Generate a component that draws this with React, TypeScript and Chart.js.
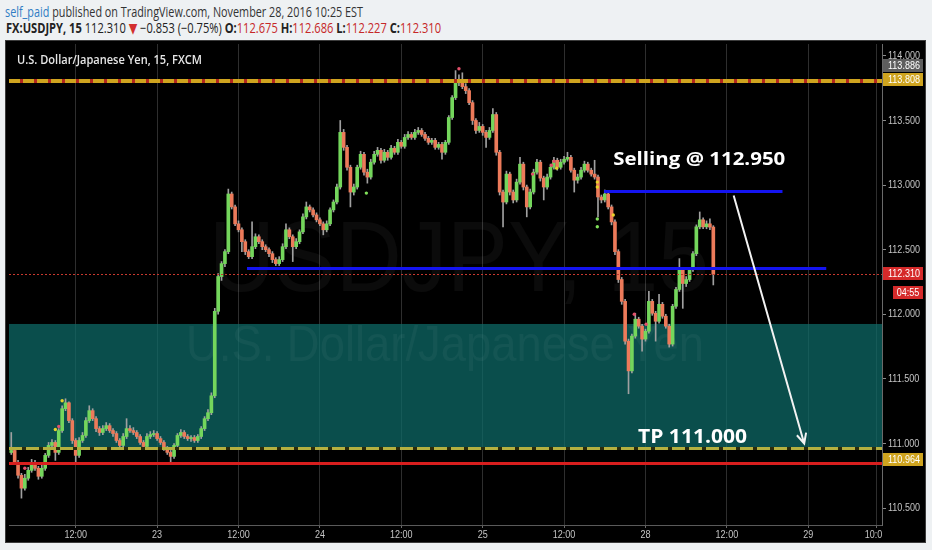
import React, { useEffect, useRef } from "react";
import { Chart, registerables } from "chart.js";

Chart.register(...registerables);

// USD/JPY, 30-minute bars from Nov 22 02:30 to Nov 28 10:00 EST (weekend gap removed)
const firstOpen = 110.93;

const closes = [
  110.946, 110.854, 110.754, 110.654, 110.731, 110.792, 110.854, 110.808, 110.746, 110.808,
  110.908, 110.985, 111.008, 110.931, 111.100, 111.269, 111.315, 111.177, 111.023, 110.908,
  111.023, 111.062, 111.177, 111.254, 111.192, 111.115, 111.085, 111.115, 111.138, 111.100,
  111.077, 111.023, 110.985, 111.054, 111.115, 111.100, 111.085, 111.054, 111.008, 110.977,
  111.054, 111.069, 111.077, 111.038, 111.008, 110.962, 110.931, 110.900, 110.985, 111.062,
  111.085, 111.054, 111.038, 111.046, 111.023, 111.054, 111.115, 111.192, 111.238, 111.369,
  112.023, 112.292, 112.392, 112.485, 112.931, 112.831, 112.700, 112.654, 112.562, 112.485,
  112.446, 112.523, 112.600, 112.562, 112.523, 112.500, 112.469, 112.423, 112.392, 112.423,
  112.523, 112.654, 112.600, 112.523, 112.562, 112.638, 112.754, 112.831, 112.808, 112.769,
  112.731, 112.700, 112.654, 112.700, 112.808, 112.869, 112.985, 113.408, 113.292, 113.138,
  112.946, 112.985, 113.138, 113.238, 113.100, 113.062, 113.177, 113.238, 113.269, 113.192,
  113.254, 113.215, 113.285, 113.254, 113.331, 113.300, 113.369, 113.392, 113.369, 113.408,
  113.423, 113.392, 113.362, 113.331, 113.346, 113.292, 113.315, 113.254, 113.331, 113.523,
  113.677, 113.792, 113.808, 113.762, 113.731, 113.638, 113.500, 113.423, 113.454, 113.408,
  113.369, 113.423, 113.546, 113.254, 112.946, 112.869, 113.085, 112.946, 112.885, 113.023,
  113.162, 112.985, 112.831, 112.946, 113.100, 113.177, 113.054, 112.985, 113.062, 113.138,
  113.192, 113.138, 113.177, 113.200, 113.215, 113.115, 113.038, 113.062, 113.115, 113.162,
  113.115, 113.085, 113.062, 112.908, 112.885, 112.931, 112.831, 112.715, 112.485, 112.269,
  112.100, 111.792, 111.562, 111.831, 111.962, 111.908, 111.808, 111.869, 112.100, 112.008,
  111.946, 112.077, 111.985, 111.908, 111.769, 112.062, 112.192, 112.346, 112.238, 112.269,
  112.346, 112.469, 112.677, 112.731, 112.677, 112.700, 112.675, 112.310,
];

const highs = [
  111.085, 110.962, 110.870, 110.769, 110.762, 110.815, 110.877, 110.869, 110.823, 110.831,
  110.923, 111.008, 111.031, 111.023, 111.115, 111.292, 111.346, 111.323, 111.192, 111.038,
  111.046, 111.085, 111.200, 111.292, 111.269, 111.208, 111.131, 111.138, 111.162, 111.154,
  111.115, 111.092, 111.038, 111.077, 111.192, 111.138, 111.123, 111.100, 111.069, 111.023,
  111.077, 111.092, 111.100, 111.092, 111.054, 111.023, 110.977, 110.946, 111.000, 111.077,
  111.108, 111.100, 111.069, 111.062, 111.062, 111.069, 111.131, 111.208, 111.262, 111.392,
  112.046, 112.315, 112.408, 112.500, 112.969, 112.946, 112.846, 112.723, 112.669, 112.577,
  112.500, 112.715, 112.623, 112.615, 112.577, 112.538, 112.515, 112.485, 112.438, 112.446,
  112.546, 112.700, 112.669, 112.615, 112.585, 112.654, 112.777, 112.869, 112.846, 112.823,
  112.785, 112.746, 112.715, 112.723, 112.823, 112.885, 113.008, 113.500, 113.431, 113.308,
  113.154, 113.008, 113.154, 113.262, 113.254, 113.123, 113.200, 113.262, 113.292, 113.285,
  113.277, 113.269, 113.308, 113.300, 113.354, 113.346, 113.392, 113.415, 113.408, 113.431,
  113.446, 113.438, 113.408, 113.377, 113.362, 113.362, 113.331, 113.331, 113.346, 113.538,
  113.692, 113.886, 113.854, 113.869, 113.785, 113.746, 113.654, 113.515, 113.485, 113.469,
  113.423, 113.446, 113.592, 113.562, 113.269, 112.962, 113.108, 113.100, 112.962, 113.046,
  113.215, 113.177, 113.000, 112.969, 113.123, 113.200, 113.192, 113.069, 113.085, 113.162,
  113.215, 113.208, 113.200, 113.223, 113.254, 113.231, 113.131, 113.085, 113.138, 113.185,
  113.177, 113.131, 113.192, 113.077, 112.923, 112.962, 112.946, 112.846, 112.731, 112.500,
  112.285, 112.115, 111.808, 111.846, 112.008, 111.977, 111.923, 111.885, 112.177, 112.115,
  112.023, 112.154, 112.092, 112.000, 111.923, 112.077, 112.208, 112.431, 112.362, 112.292,
  112.362, 112.485, 112.692, 112.792, 112.746, 112.723, 112.738, 112.686,
];

const lows = [
  110.915, 110.838, 110.731, 110.577, 110.638, 110.715, 110.777, 110.792, 110.723, 110.731,
  110.792, 110.892, 110.962, 110.869, 110.915, 111.085, 111.254, 111.162, 111.000, 110.846,
  110.892, 111.008, 111.046, 111.162, 111.177, 111.092, 111.062, 111.069, 111.100, 111.085,
  111.054, 111.008, 110.962, 110.969, 111.038, 111.085, 111.069, 111.038, 110.992, 110.962,
  110.962, 111.038, 111.054, 111.023, 110.992, 110.946, 110.915, 110.854, 110.885, 110.969,
  111.046, 111.038, 111.023, 111.015, 111.008, 111.008, 111.038, 111.100, 111.177, 111.223,
  111.354, 112.000, 112.262, 112.369, 112.469, 112.815, 112.685, 112.638, 112.485, 112.462,
  112.431, 112.431, 112.508, 112.546, 112.500, 112.485, 112.446, 112.400, 112.377, 112.377,
  112.408, 112.508, 112.585, 112.408, 112.508, 112.546, 112.623, 112.738, 112.792, 112.754,
  112.715, 112.685, 112.615, 112.638, 112.685, 112.792, 112.854, 112.969, 113.269, 113.115,
  112.831, 112.923, 112.969, 113.123, 113.077, 113.015, 113.046, 113.162, 113.223, 113.169,
  113.177, 113.192, 113.200, 113.238, 113.238, 113.285, 113.285, 113.354, 113.354, 113.354,
  113.392, 113.377, 113.346, 113.315, 113.315, 113.277, 113.277, 113.200, 113.238, 113.315,
  113.508, 113.662, 113.769, 113.746, 113.708, 113.623, 113.469, 113.400, 113.408, 113.385,
  113.292, 113.354, 113.408, 113.231, 112.923, 112.677, 112.854, 112.923, 112.862, 112.869,
  113.008, 112.962, 112.754, 112.815, 112.931, 113.085, 113.031, 112.885, 112.969, 113.046,
  113.123, 113.115, 113.123, 113.162, 113.185, 113.100, 112.946, 113.015, 113.046, 113.100,
  113.100, 113.069, 113.046, 112.754, 112.862, 112.869, 112.815, 112.692, 112.462, 112.246,
  112.077, 111.769, 111.385, 111.546, 111.815, 111.892, 111.715, 111.792, 111.854, 111.992,
  111.792, 111.931, 111.969, 111.892, 111.746, 111.754, 112.046, 112.177, 112.046, 112.215,
  112.254, 112.331, 112.454, 112.662, 112.662, 112.662, 112.654, 112.227,
];

// time axis: bar index of each label
const timeTickIndex = [19, 43, 67, 91, 115, 139, 163, 187, 211, 235, 255];
const timeTickLabels = ["12:00", "23", "12:00", "24", "12:00", "25", "12:00", "28", "12:00", "29", "10:00"];
const priceTicks = [110.5, 111.0, 111.5, 112.0, 112.5, 113.0, 113.5, 114.0];

const X_MIN = -0.67;
const X_MAX = 256.74;
const Y_MIN = 110.369;
const Y_MAX = 114.092;

// levels drawn on the chart
const resistanceLevel = 113.808;
const supportLevel = 110.964;
const stopLevel = 110.846;
const zoneTop = 111.925;
const sellPrice = 112.95;
const targetPrice = 111.0;
const sessionHigh = 113.886;
const pivotLevel = 112.355;

// drawings anchored in (bar index, price)
const sellLineSpan = [174.8, 227.4];
const pivotLineSpan = [69.5, 240.3];
const arrowStart = [213.0, 112.92];
const arrowEnd = [233.8, targetPrice];
const sellLabelAt = [177.5, 113.154];
const targetLabelAt = [184.8, targetPrice];

// indicator dots
const signalIndex = [4, 13, 14, 15, 104.7, 132, 153.7, 159.3, 160, 160.8, 172.8, 172.8, 172.8, 172.8, 177.5, 183.7, 187.2];
const signalPrice = [110.808, 111.108, 111.131, 111.331, 112.938, 113.9, 113.085, 113.154, 113.185, 113.131, 113.023, 112.985, 112.738, 112.677, 112.769, 112.0, 111.923];
const signalKind = ["r", "y", "r", "y", "g", "r", "r", "r", "r", "y", "y", "y", "g", "g", "y", "r", "r"];

const barCountdown = "04:55";
const dayChange = "\u22120.853 (\u22120.75%)";

const UP = "#74d65c";
const DOWN = "#ec7a5a";
const WICK = "#a0a0a0";
const SIGNAL_COLORS: Record<string, string> = { r: "#e2506a", y: "#e6d22a", g: "#80e05a" };

const opens = closes.map((_, i) => (i === 0 ? firstOpen : closes[i - 1]));
const last = closes.length - 1;

function squeeze(ctx: CanvasRenderingContext2D, text: string, x: number, y: number, sx: number, align: string) {
  const w = ctx.measureText(text).width * sx;
  const left = align === "center" ? x - w / 2 : align === "right" ? x - w : x;
  ctx.save();
  ctx.translate(left, y);
  ctx.scale(sx, 1);
  ctx.textAlign = "left";
  ctx.fillText(text, 0, 0);
  ctx.restore();
}

function fitText(ctx: CanvasRenderingContext2D, text: string, left: number, y: number, width: number) {
  const w = ctx.measureText(text).width;
  ctx.save();
  ctx.translate(left, y);
  ctx.scale(width / w, 1);
  ctx.textAlign = "left";
  ctx.fillText(text, 0, 0);
  ctx.restore();
}

const AXIS_FONT = "11px 'Liberation Sans', Arial, sans-serif";

const overlay = {
  id: "overlay",
  beforeDatasetsDraw(chart: any) {
    const { ctx, chartArea: a, scales } = chart;
    const y = scales.y;
    ctx.save();
    ctx.beginPath();
    ctx.rect(a.left, a.top, a.right - a.left, a.bottom - a.top);
    ctx.clip();
    // demand zone
    const zt = y.getPixelForValue(zoneTop);
    const zb = y.getPixelForValue(supportLevel);
    ctx.fillStyle = "rgba(14,108,106,0.72)";
    ctx.fillRect(a.left, zt, a.right - a.left, zb - zt);
    // symbol watermark
    ctx.fillStyle = "rgba(255,255,255,0.045)";
    ctx.textBaseline = "alphabetic";
    ctx.font = "100px 'Liberation Sans', Arial, sans-serif";
    fitText(ctx, "USDJPY, 15", a.left + 200, a.top + 247, 500);
    ctx.font = "50px 'Liberation Sans', Arial, sans-serif";
    fitText(ctx, "U.S. Dollar/Japanese Yen", a.left + 177, a.top + 317, 518);
    ctx.restore();
  },
  afterDatasetsDraw(chart: any) {
    const { ctx, chartArea: a, scales } = chart;
    const x = scales.x;
    const y = scales.y;
    ctx.save();
    ctx.beginPath();
    ctx.rect(a.left, a.top, a.right - a.left, a.bottom - a.top);
    ctx.clip();

    const hline = (p: number, color: string, width: number, dash: number[] = []) => {
      const py = Math.round(y.getPixelForValue(p)) + (width % 2 ? 0.5 : 0);
      ctx.strokeStyle = color;
      ctx.lineWidth = width;
      ctx.setLineDash(dash);
      ctx.beginPath();
      ctx.moveTo(a.left, py);
      ctx.lineTo(a.right, py);
      ctx.stroke();
    };
    hline(stopLevel, "#d81e1e", 3);
    hline(supportLevel, "#2c2c0c", 3);
    hline(supportLevel, "#b4b040", 3, [13, 4]);
    hline(resistanceLevel, "#b3261e", 4);
    hline(resistanceLevel, "#cfa41f", 4, [11, 3]);
    hline(closes[last], "#c8382e", 1, [2, 2]);
    ctx.setLineDash([]);

    // trend segments
    const seg = (span: number[], p: number) => {
      const py = y.getPixelForValue(p);
      ctx.strokeStyle = "#1414f0";
      ctx.lineWidth = 3;
      ctx.beginPath();
      ctx.moveTo(x.getPixelForValue(span[0]), py);
      ctx.lineTo(x.getPixelForValue(span[1]), py);
      ctx.stroke();
    };
    seg(sellLineSpan, sellPrice);
    seg(pivotLineSpan, pivotLevel);

    // target arrow
    const x1 = x.getPixelForValue(arrowStart[0]);
    const y1 = y.getPixelForValue(arrowStart[1]);
    const x2 = x.getPixelForValue(arrowEnd[0]);
    const y2 = y.getPixelForValue(arrowEnd[1]);
    ctx.strokeStyle = "#f2f2f2";
    ctx.lineWidth = 2;
    ctx.beginPath();
    ctx.moveTo(x1, y1);
    ctx.lineTo(x2, y2);
    const ang = Math.atan2(y2 - y1, x2 - x1);
    const head = 11;
    ctx.moveTo(x2 - head * Math.cos(ang - 0.45), y2 - head * Math.sin(ang - 0.45));
    ctx.lineTo(x2, y2);
    ctx.lineTo(x2 - head * Math.cos(ang + 0.45), y2 - head * Math.sin(ang + 0.45));
    ctx.stroke();

    // annotations
    ctx.fillStyle = "#ffffff";
    ctx.textBaseline = "alphabetic";
    ctx.font = "bold 18px 'Open Sans', 'DejaVu Sans', sans-serif";
    fitText(ctx, `Selling @ ${sellPrice.toFixed(3)}`, x.getPixelForValue(sellLabelAt[0]), y.getPixelForValue(sellLabelAt[1]), 172);
    ctx.font = "bold 20px 'Open Sans', 'DejaVu Sans', sans-serif";
    fitText(ctx, `TP ${targetPrice.toFixed(3)}`, x.getPixelForValue(targetLabelAt[0]), y.getPixelForValue(targetLabelAt[1]), 109);

    // pane title
    ctx.fillStyle = "#e6e6e6";
    ctx.font = "600 12px 'Open Sans', 'DejaVu Sans', sans-serif";
    fitText(ctx, "U.S. Dollar/Japanese Yen, 15, FXCM", a.left + 8, a.top + 20, 185);
    ctx.restore();
  },
  afterDraw(chart: any) {
    const { ctx, chartArea: a, scales, width, height } = chart;
    const x = scales.x;
    const y = scales.y;
    ctx.save();
    ctx.font = AXIS_FONT;
    ctx.textBaseline = "middle";

    // time labels (clipped at the price scale)
    ctx.save();
    ctx.beginPath();
    ctx.rect(0, a.bottom, a.right, height - a.bottom);
    ctx.clip();
    ctx.fillStyle = "#c4c4c4";
    timeTickIndex.forEach((v, i) => squeeze(ctx, timeTickLabels[i], x.getPixelForValue(v), a.bottom + 10, 0.82, "center"));
    ctx.restore();

    // price labels
    ctx.fillStyle = "#c4c4c4";
    priceTicks.forEach((v) => squeeze(ctx, v.toFixed(3), a.right + 6, y.getPixelForValue(v), 0.82, "left"));

    const tag = (p: number, dy: number, bg: string, text: string) => {
      const cy = y.getPixelForValue(p) + dy;
      ctx.fillStyle = bg;
      ctx.fillRect(a.right + 1, Math.round(cy - 6.5), 40, 13);
      ctx.fillStyle = "#ffffff";
      squeeze(ctx, text, a.right + 6, cy + 0.5, 0.82, "left");
    };
    tag(sessionHigh, -5, "#5e5e5e", sessionHigh.toFixed(3));
    tag(resistanceLevel, -1, "#cfa41f", resistanceLevel.toFixed(3));
    tag(supportLevel, 11, "#cfa41f", supportLevel.toFixed(3));
    tag(closes[last], -1, "#d52a2a", closes[last].toFixed(3));
    const cy = y.getPixelForValue(closes[last]) + 18;
    ctx.fillStyle = "#d52a2a";
    ctx.fillRect(a.right + 11, Math.round(cy - 6.5), 30, 13);
    ctx.fillStyle = "#ffffff";
    squeeze(ctx, barCountdown, a.right + 26, cy + 0.5, 0.82, "center");

    // pane border
    ctx.strokeStyle = "#3c3c3c";
    ctx.lineWidth = 1;
    ctx.strokeRect(0.5, 0.5, width - 1, height - 1);
    ctx.restore();
  },
};

export default function App() {
  const canvasRef = useRef<HTMLCanvasElement | null>(null);
  const line1 = useRef<HTMLDivElement | null>(null);
  const line2 = useRef<HTMLDivElement | null>(null);

  useEffect(() => {
    const fits: [HTMLDivElement | null, number][] = [
      [line1.current, 358],
      [line2.current, 435],
    ];
    fits.forEach(([el, target]) => {
      if (!el) return;
      el.style.transform = "none";
      const w = el.getBoundingClientRect().width;
      el.style.transform = `scaleX(${target / w})`;
    });

    const canvas = canvasRef.current;
    if (!canvas) return;
    const idx = closes.map((_, i) => i);
    const chart = new Chart(canvas, {
      type: "bar",
      data: {
        datasets: [
          {
            type: "bar",
            label: "wick",
            data: idx.map((i) => ({ x: i, y: [lows[i], highs[i]] })) as any,
            backgroundColor: WICK,
            barThickness: 1,
            grouped: false,
            order: 3,
          },
          {
            type: "bar",
            label: "body",
            data: idx.map((i) => ({ x: i, y: [opens[i], closes[i]] })) as any,
            backgroundColor: idx.map((i) => (closes[i] >= opens[i] ? UP : DOWN)),
            barThickness: 3,
            minBarLength: 1,
            grouped: false,
            order: 2,
          },
          {
            type: "scatter",
            label: "signals",
            data: signalIndex.map((v, i) => ({ x: v, y: signalPrice[i] })),
            pointRadius: 1.7,
            pointBorderWidth: 0,
            pointBackgroundColor: signalKind.map((k) => SIGNAL_COLORS[k]),
            order: 1,
          } as any,
        ],
      },
      options: {
        animation: false,
        responsive: false,
        maintainAspectRatio: false,
        events: [],
        layout: { padding: { top: 1, left: 0, right: 0, bottom: 0 } },
        plugins: { legend: { display: false }, tooltip: { enabled: false } },
        scales: {
          x: {
            type: "linear",
            position: "bottom",
            min: X_MIN,
            max: X_MAX,
            offset: false,
            afterBuildTicks: (s: any) => {
              s.ticks = timeTickIndex.map((v) => ({ value: v }));
            },
            afterFit: (s: any) => {
              s.height = 18;
            },
            grid: { color: "#2e2e2e", tickColor: "#6a6a6a", tickLength: 3, drawTicks: true, offset: false },
            border: { color: "#5a5a5a" },
            ticks: { display: false },
          },
          y: {
            type: "linear",
            position: "right",
            min: Y_MIN,
            max: Y_MAX,
            afterBuildTicks: (s: any) => {
              s.ticks = priceTicks.map((v) => ({ value: v }));
            },
            afterFit: (s: any) => {
              s.width = 44;
            },
            grid: { drawOnChartArea: false, tickColor: "#8a8a8a", tickLength: 4 },
            border: { color: "#6a6a6a" },
            ticks: { display: false },
          },
        } as any,
      },
      plugins: [overlay],
    });
    return () => chart.destroy();
  }, []);

  const red = { color: "#c62828" };
  const bold = { fontWeight: 700 };
  return (
    <div
      style={{
        position: "fixed",
        left: 0,
        top: 0,
        width: 932,
        height: 550,
        background: "#eef1f3",
        overflow: "hidden",
        fontFamily: "'Open Sans', 'DejaVu Sans', sans-serif",
      }}
    >
      <div
        ref={line1}
        style={{
          position: "absolute",
          left: 5,
          top: 3,
          fontSize: 14,
          lineHeight: "17px",
          whiteSpace: "nowrap",
          color: "#333",
          transformOrigin: "0 0",
        }}
      >
        <span style={{ color: "#2f7cc4" }}>self_paid</span> published on TradingView.com, November 28, 2016 10:25 EST
      </div>
      <div
        ref={line2}
        style={{
          position: "absolute",
          left: 6,
          top: 19,
          fontSize: 14,
          lineHeight: "17px",
          whiteSpace: "nowrap",
          color: "#222",
          transformOrigin: "0 0",
        }}
      >
        <span style={bold}>FX:USDJPY, 15</span> {closes[last].toFixed(3)} <span style={{ color: "#d32f2f" }}>{"\u25BC"}</span>{" "}
        {dayChange} <span style={bold}>O:</span>
        <span style={red}>{opens[last].toFixed(3)}</span> <span style={bold}>H:</span>
        <span style={red}>{highs[last].toFixed(3)}</span> <span style={bold}>L:</span>
        <span style={red}>{lows[last].toFixed(3)}</span> <span style={bold}>C:</span>
        <span style={red}>{closes[last].toFixed(3)}</span>
      </div>
      <div style={{ position: "absolute", left: 5, top: 40, width: 921, height: 503, background: "#000" }}>
        <canvas ref={canvasRef} width={921} height={503} style={{ display: "block", width: 921, height: 503 }} />
      </div>
    </div>
  );
}
